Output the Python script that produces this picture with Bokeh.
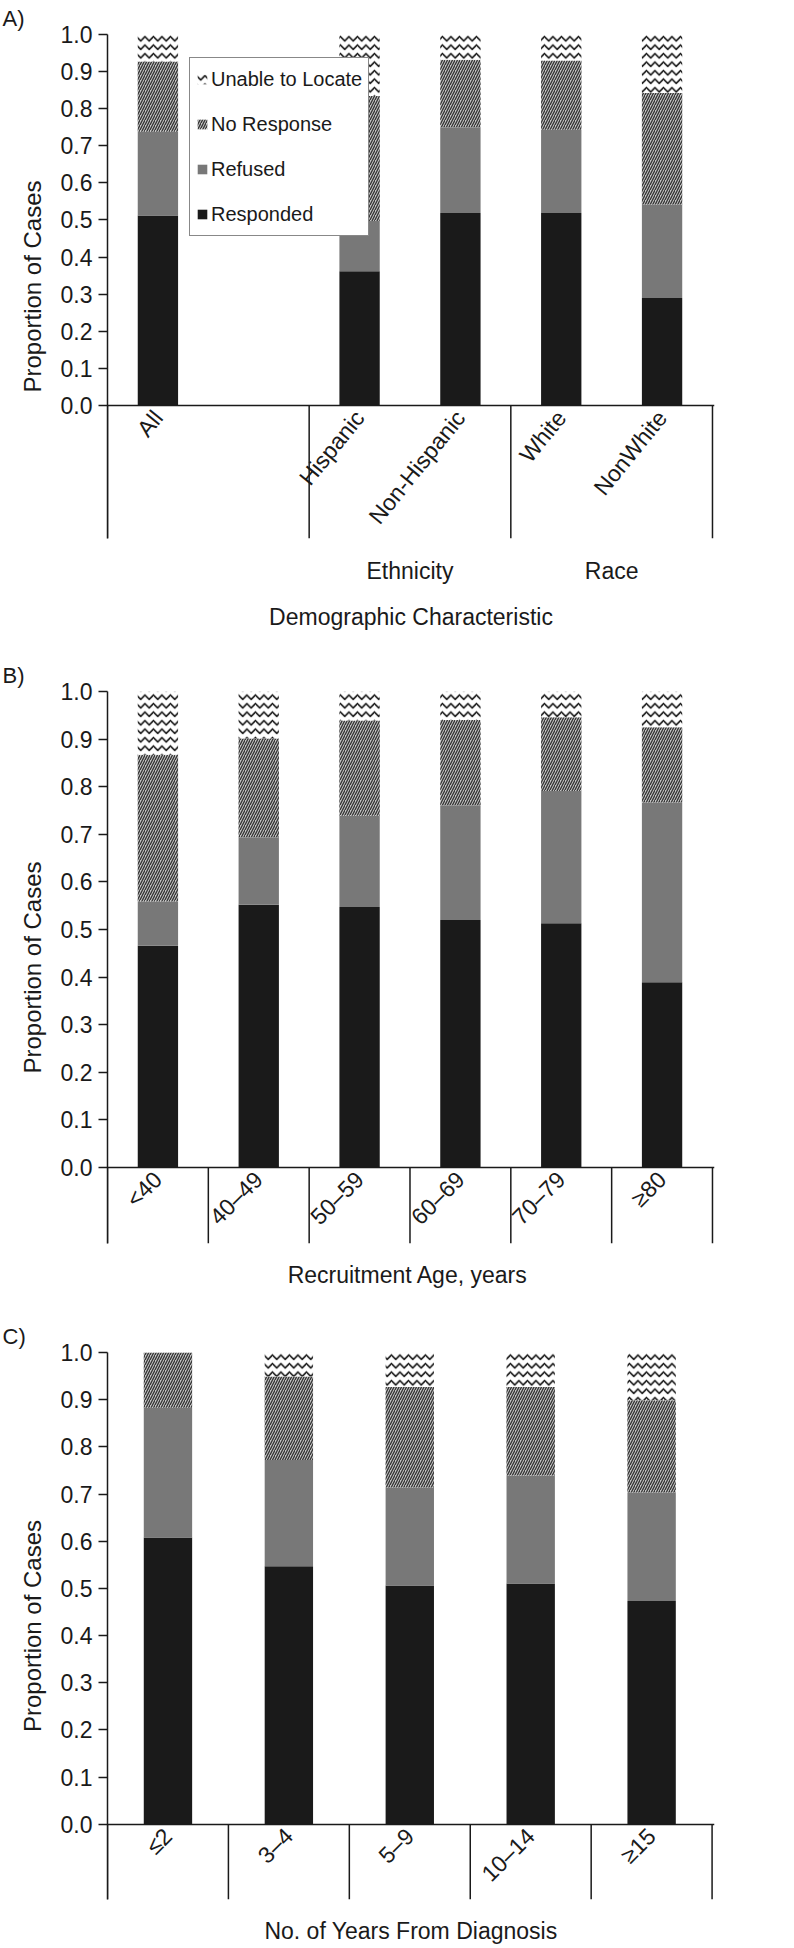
from bokeh.plotting import figure
from bokeh.models import (Range1d, LinearAxis, FixedTicker, NumeralTickFormatter,
                          ColumnDataSource, Legend, LegendItem)
from bokeh.layouts import column
from bokeh.embed import file_html
from bokeh.resources import INLINE
import math

# ---------------- data ----------------
stack_labels = ["Responded", "Refused", "No Response", "Unable to Locate"]

# Panel A: demographic characteristic ("" = empty column in the original chart)
a_categories = ["All", "", "Hispanic", "Non-Hispanic", "White", "NonWhite"]
a_groups = ["", "Ethnicity", "Race"]
a_group_sizes = [2, 2, 2]
a_responded = [0.512, 0.0, 0.362, 0.519, 0.519, 0.290]
a_refused = [0.226, 0.0, 0.135, 0.231, 0.224, 0.252]
a_no_response = [0.189, 0.0, 0.337, 0.182, 0.187, 0.300]
a_unable = [0.073, 0.0, 0.166, 0.068, 0.070, 0.158]

# Panel B: recruitment age
b_categories = ["<40", "40\u201349", "50\u201359", "60\u201369", "70\u201379", "\u226580"]
b_responded = [0.466, 0.552, 0.547, 0.520, 0.513, 0.389]
b_refused = [0.093, 0.142, 0.192, 0.241, 0.278, 0.378]
b_no_response = [0.308, 0.207, 0.200, 0.179, 0.155, 0.158]
b_unable = [0.133, 0.099, 0.061, 0.060, 0.054, 0.075]

# Panel C: years from diagnosis
c_categories = ["\u22642", "3\u20134", "5\u20139", "10\u201314", "\u226515"]
c_responded = [0.608, 0.547, 0.506, 0.510, 0.473]
c_refused = [0.275, 0.225, 0.208, 0.229, 0.230]
c_no_response = [0.117, 0.177, 0.213, 0.188, 0.196]
c_unable = [0.000, 0.051, 0.073, 0.073, 0.101]

y_ticks = [0.0, 0.1, 0.2, 0.3, 0.4, 0.5, 0.6, 0.7, 0.8, 0.9, 1.0]

# ---------------- style ----------------
FONT = "Liberation Sans"
TXT = "#1a1a1a"
fill_colors = ["#1a1a1a", "#787878", "#c4c4c4", "#ffffff"]
hatch_patterns = [" ", " ", "right_diagonal_line", "horizontal_wave"]
hatch_colors = ["#1a1a1a", "#787878", "#333333", "#111111"]
hatch_scales = [12, 12, 5, 8.5]
hatch_weights = [1, 1, 1.3, 1.6]


def make_panel(tag, cats, resp, ref, nores, unable, xlabel, angle,
               height, border_top, border_bottom, border_right, y_bottom,
               title_standoff, groups=None, group_sizes=None, legend=False,
               group_standoff=18, xlabel_standoff=18):
    n = len(cats)
    xs = list(range(1, n + 1))
    src = ColumnDataSource(dict(x=xs, responded=resp, refused=ref,
                                no_response=nores, unable=unable))
    p = figure(width=792, height=height, output_backend="svg", toolbar_location=None,
               x_range=Range1d(0.5, n + 0.52), y_range=Range1d(y_bottom, 1.0),
               x_axis_location=None, title=tag,
               min_border_left=107, min_border_right=border_right,
               min_border_top=border_top, min_border_bottom=border_bottom)
    p.outline_line_color = None
    p.grid.visible = False
    p.background_fill_color = "white"

    # panel tag "A)" etc.
    p.title.align = "left"
    p.title.offset = -105
    p.title.standoff = title_standoff
    p.title.text_font = FONT
    p.title.text_font_size = "22px"
    p.title.text_font_style = "normal"
    p.title.text_color = TXT

    # y axis
    ya = p.yaxis[0]
    ya.ticker = FixedTicker(ticks=y_ticks)
    ya.formatter = NumeralTickFormatter(format="0.0")
    ya.axis_label = "Proportion of Cases"
    ya.axis_label_text_font = FONT
    ya.axis_label_text_font_size = "24px"
    ya.axis_label_text_font_style = "normal"
    ya.axis_label_text_color = TXT
    ya.axis_label_standoff = 12
    ya.major_label_text_font = FONT
    ya.major_label_text_font_size = "23px"
    ya.major_label_text_color = TXT
    ya.major_label_standoff = 6
    ya.major_tick_out = 9
    ya.major_tick_in = 0
    ya.minor_tick_line_color = None
    ya.major_tick_line_color = TXT
    ya.major_tick_line_width = 1.5
    ya.axis_line_color = TXT
    ya.axis_line_width = 1.5

    # stacked bars
    rs = p.vbar_stack(["responded", "refused", "no_response", "unable"], x="x",
                      width=0.4, source=src, fill_color=fill_colors,
                      line_color=None, hatch_pattern=hatch_patterns,
                      hatch_color=hatch_colors, hatch_scale=hatch_scales,
                      hatch_weight=hatch_weights)

    # dividers below the category axis
    if groups is not None:
        divs = [0.5]
        for s in group_sizes:
            divs.append(divs[-1] + s)
    else:
        divs = [i + 0.5 for i in range(n + 1)]
    p.segment(x0=divs, y0=[0] * len(divs), x1=divs, y1=[y_bottom] * len(divs),
              line_color=TXT, line_width=1.5)

    # category axis at y = 0
    ticks = [x for x, c in zip(xs, cats) if c]
    xa = LinearAxis(fixed_location=0, ticker=FixedTicker(ticks=ticks),
                    major_label_overrides={x: c for x, c in zip(xs, cats) if c},
                    major_label_orientation=angle,
                    major_tick_line_color=None, minor_tick_line_color=None,
                    major_tick_out=0, major_tick_in=0,
                    axis_line_color=TXT, axis_line_width=1.5,
                    major_label_standoff=8,
                    major_label_text_font=FONT, major_label_text_font_size="23px",
                    major_label_text_color=TXT)
    p.add_layout(xa, "below")

    # group labels + axis title
    if groups is not None:
        gc, start = [], 0.5
        for s in group_sizes:
            gc.append(start + s / 2)
            start += s
        gticks = [g for g, name in zip(gc, groups) if name]
        goverrides = {g: name for g, name in zip(gc, groups) if name}
    else:
        gticks, goverrides = [], {}
    ga = LinearAxis(ticker=FixedTicker(ticks=gticks), major_label_overrides=goverrides,
                    axis_line_color=None, major_tick_line_color=None,
                    minor_tick_line_color=None, major_tick_out=0, major_tick_in=0,
                    major_label_standoff=group_standoff,
                    major_label_text_font=FONT, major_label_text_font_size="23px",
                    major_label_text_color=TXT,
                    axis_label=xlabel, axis_label_standoff=xlabel_standoff,
                    axis_label_text_font=FONT, axis_label_text_font_size="23px",
                    axis_label_text_font_style="normal", axis_label_text_color=TXT)
    p.add_layout(ga, "below")

    if legend:
        items = [LegendItem(label=lab, renderers=[r])
                 for lab, r in reversed(list(zip(stack_labels, rs)))]
        lg = Legend(items=items, location=(82, 302), orientation="vertical",
                    label_text_font=FONT, label_text_font_size="20px",
                    label_text_color=TXT, glyph_width=12, glyph_height=12,
                    label_height=30, spacing=15, padding=6, margin=0,
                    label_standoff=3,
                    border_line_color="#111111", border_line_width=1,
                    background_fill_color="white", background_fill_alpha=1.0)
        p.add_layout(lg)
    return p


pA = make_panel("A)", a_categories, a_responded, a_refused, a_no_response, a_unable,
                "Demographic Characteristic", 51 * math.pi / 180,
                height=650, border_top=34, border_bottom=112, border_right=0,
                y_bottom=-0.3585, title_standoff=7,
                groups=a_groups, group_sizes=a_group_sizes, legend=True,
                group_standoff=19, xlabel_standoff=17)
pB = make_panel("B)", b_categories, b_responded, b_refused, b_no_response, b_unable,
                "Recruitment Age,  years", math.pi / 4,
                height=660, border_top=41, border_bottom=67, border_right=55,
                y_bottom=-0.1597, title_standoff=7, xlabel_standoff=18)
pC = make_panel("C)", c_categories, c_responded, c_refused, c_no_response, c_unable,
                "No. of Years From Diagnosis", math.pi / 4,
                height=636, border_top=42, border_bottom=42, border_right=78,
                y_bottom=-0.1597, title_standoff=8, xlabel_standoff=18)

layout = column(pA, pB, pC, spacing=0)
open("out.html", "w").write(file_html(layout, INLINE))
